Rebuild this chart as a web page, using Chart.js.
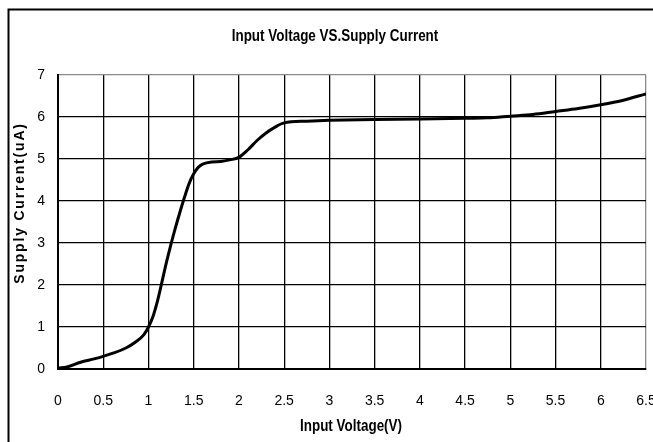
<!DOCTYPE html>
<html>
<head>
<meta charset="utf-8">
<script src="https://cdn.jsdelivr.net/npm/chart.js@4.4.1/dist/chart.umd.min.js"></script>
<style>
  body { margin: 0; background: #fff; }
  #wrap { position: relative; width: 653px; height: 442px; }
</style>
</head>
<body>
<div id="wrap"><canvas id="ivChart" width="653" height="442"></canvas></div>
<script>
// curve: input voltage (V) vs supply current (uA)
const voltage = [0, 0.1, 0.25, 0.4, 0.5, 0.6, 0.75, 0.85, 0.95, 1.0, 1.05, 1.1, 1.15, 1.2, 1.25, 1.3, 1.35, 1.4, 1.45, 1.5, 1.55, 1.6, 1.7, 1.8, 1.9, 2.0, 2.1, 2.2, 2.3, 2.4, 2.5, 2.75, 3.0, 3.5, 4.0, 4.5, 4.75, 5.0, 5.25, 5.5, 5.75, 6.0, 6.25, 6.5];
const current = [0.02, 0.05, 0.16, 0.24, 0.3, 0.37, 0.5, 0.63, 0.82, 1.0, 1.25, 1.62, 2.08, 2.55, 2.98, 3.38, 3.75, 4.1, 4.42, 4.65, 4.8, 4.88, 4.93, 4.94, 4.98, 5.04, 5.22, 5.44, 5.62, 5.76, 5.86, 5.9, 5.92, 5.94, 5.95, 5.97, 5.98, 6.02, 6.06, 6.13, 6.2, 6.29, 6.4, 6.55];

const chartTitle = 'Input Voltage VS.Supply Current';
const xTitle = 'Input Voltage(V)';
const yTitle = 'Supply Current(uA)';

const sans = '"Liberation Sans", Arial, sans-serif';

// squeezed text, to look like the narrow face of the original
function narrowText(c, text, x, y, squeeze) {
    c.save();
    c.translate(x, y);
    c.scale(squeeze, 1);
    c.fillText(text, 0, 0);
    c.restore();
}

// frame + titles drawn by hand
const decor = {
    id: 'decor',
    beforeDraw(chart) {
        const c = chart.ctx;
        c.save();
        c.strokeStyle = '#000';
        c.lineWidth = 2;
        c.beginPath();
        c.moveTo(8.5, 442);
        c.lineTo(8.5, 9.5);
        c.lineTo(653, 9.5);
        c.stroke();
        c.restore();
    },
    afterDraw(chart) {
        const c = chart.ctx;
        c.save();
        c.fillStyle = '#000';
        c.textAlign = 'center';
        c.textBaseline = 'alphabetic';
        c.font = 'bold 16px ' + sans;
        narrowText(c, chartTitle, 335, 40.5, 0.84);
        narrowText(c, xTitle, 351, 431, 0.84);
        // vertical axis title, spaced letters
        c.translate(24, 203);
        c.rotate(-Math.PI / 2);
        c.font = 'bold 14px ' + sans;
        c.letterSpacing = '1.8px';
        c.fillText(yTitle, 0, 0);
        c.restore();
    }
};

new Chart(document.getElementById('ivChart'), {
    type: 'line',
    data: {
        labels: voltage,
        datasets: [{
            data: voltage.map((v, i) => ({ x: v, y: current[i] })),
            borderColor: '#000',
            borderWidth: 3,
            pointRadius: 0,
            cubicInterpolationMode: 'monotone',
            fill: false
        }]
    },
    options: {
        responsive: false,
        animation: false,
        devicePixelRatio: 1,
        layout: { padding: { top: 75, right: 7, left: 0, bottom: 0 } },
        plugins: { legend: { display: false }, title: { display: false }, tooltip: { enabled: false } },
        scales: {
            x: {
                type: 'linear',
                min: 0, max: 6.5,
                afterFit(s) { s.height = 73; s.paddingLeft = 0; s.paddingRight = 0; },
                ticks: {
                    stepSize: 0.5,
                    color: '#000',
                    padding: 24,
                    maxRotation: 0,
                    callback: v => String(v),
                    font: { family: sans, size: 14 }
                },
                grid: {
                    drawTicks: false,
                    color: ctx => (ctx.tick && ctx.tick.value === 6.5) ? '#8a8a8a' : '#000',
                    lineWidth: 1.3
                },
                border: { color: '#000', width: 2 }
            },
            y: {
                min: 0, max: 7,
                afterFit(s) { s.width = 58; },
                ticks: {
                    stepSize: 1,
                    color: '#000',
                    padding: 13,
                    font: { family: sans, size: 14 }
                },
                grid: {
                    drawTicks: false,
                    color: ctx => (ctx.tick && ctx.tick.value === 7) ? '#8a8a8a' : '#000',
                    lineWidth: 1.3
                },
                border: { color: '#000', width: 2 }
            }
        }
    },
    plugins: [decor]
});
</script>
</body>
</html>
